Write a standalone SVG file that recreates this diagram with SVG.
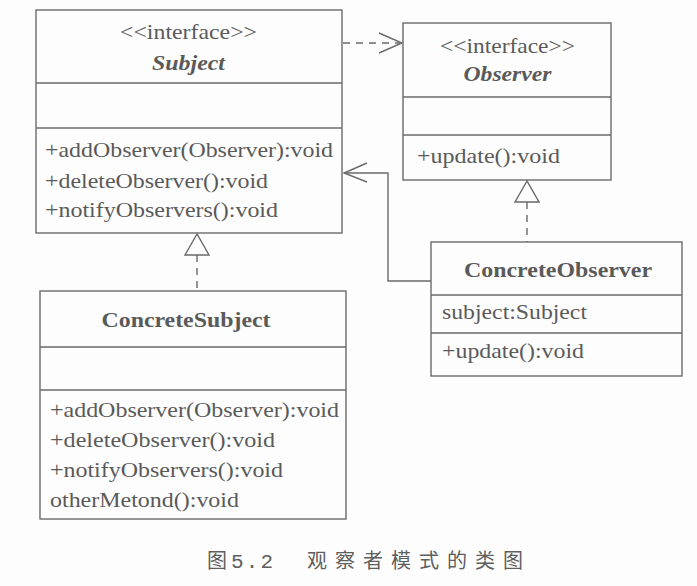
<svg xmlns="http://www.w3.org/2000/svg" width="697" height="586" viewBox="0 0 697 586">
<style>
.box{fill:none;stroke:#6a6a6a;stroke-width:1.4}
.t{font-family:"Liberation Serif","Times New Roman",serif;font-size:22px;fill:#5a5a5a}
.c{text-anchor:middle}
.b{font-weight:bold}
.i{font-style:italic;font-weight:bold}
.ln{fill:none;stroke:#6a6a6a;stroke-width:1.4}
.dash{stroke-dasharray:7,6}
.cap{font-family:"Noto Sans CJK SC","Noto Sans CJK JP",sans-serif;font-size:20px;fill:#5e5e5e}
.num{font-family:"Liberation Mono","Courier New",monospace;font-size:21px;fill:#5e5e5e}
</style>
<rect width="697" height="586" fill="#fdfdfd"/>
<g id="Subject">
<rect class="box" x="36" y="10" width="306" height="223"/>
<line class="box" x1="36" y1="83" x2="342" y2="83"/>
<line class="box" x1="36" y1="128" x2="342" y2="128"/>
<text class="t c" x="188.5" y="39" textLength="137" lengthAdjust="spacingAndGlyphs">&lt;&lt;interface&gt;&gt;</text>
<text class="t c i" x="188.5" y="70" textLength="73" lengthAdjust="spacingAndGlyphs">Subject</text>
<text class="t" x="45" y="157" textLength="288" lengthAdjust="spacingAndGlyphs">+addObserver(Observer):void</text>
<text class="t" x="45" y="188" textLength="223" lengthAdjust="spacingAndGlyphs">+deleteObserver():void</text>
<text class="t" x="45" y="217" textLength="233" lengthAdjust="spacingAndGlyphs">+notifyObservers():void</text>
</g>
<g id="Observer">
<rect class="box" x="403" y="23" width="208" height="157"/>
<line class="box" x1="403" y1="97" x2="611" y2="97"/>
<line class="box" x1="403" y1="135" x2="611" y2="135"/>
<text class="t c" x="507.5" y="53" textLength="135" lengthAdjust="spacingAndGlyphs">&lt;&lt;interface&gt;&gt;</text>
<text class="t c i" x="507.5" y="81" textLength="88" lengthAdjust="spacingAndGlyphs">Observer</text>
<text class="t" x="417" y="163" textLength="143" lengthAdjust="spacingAndGlyphs">+update():void</text>
</g>
<g id="ConcreteObserver">
<rect class="box" x="431" y="242" width="251" height="134"/>
<line class="box" x1="431" y1="295" x2="682" y2="295"/>
<line class="box" x1="431" y1="333" x2="682" y2="333"/>
<text class="t c b" x="558" y="277" textLength="188" lengthAdjust="spacingAndGlyphs">ConcreteObserver</text>
<text class="t" x="442" y="319" textLength="145" lengthAdjust="spacingAndGlyphs">subject:Subject</text>
<text class="t" x="442" y="358" textLength="142" lengthAdjust="spacingAndGlyphs">+update():void</text>
</g>
<g id="ConcreteSubject">
<rect class="box" x="40" y="291" width="306" height="228"/>
<line class="box" x1="40" y1="347" x2="346" y2="347"/>
<line class="box" x1="40" y1="390" x2="346" y2="390"/>
<text class="t c b" x="186" y="327" textLength="169" lengthAdjust="spacingAndGlyphs">ConcreteSubject</text>
<text class="t" x="50" y="417" textLength="289" lengthAdjust="spacingAndGlyphs">+addObserver(Observer):void</text>
<text class="t" x="50" y="447" textLength="225" lengthAdjust="spacingAndGlyphs">+deleteObserver():void</text>
<text class="t" x="50" y="477" textLength="233" lengthAdjust="spacingAndGlyphs">+notifyObservers():void</text>
<text class="t" x="50" y="507" textLength="189" lengthAdjust="spacingAndGlyphs">otherMetond():void</text>
</g>
<g id="connectors">
<line class="ln dash" x1="343" y1="43" x2="400" y2="43"/>
<polyline class="ln" points="379,33 402,43 379,53"/>
<line class="ln dash" x1="527" y1="202" x2="527" y2="242"/>
<polygon class="ln" points="527,181 515,202 539,202" fill="#fdfdfd"/>
<line class="ln dash" x1="197" y1="255" x2="197" y2="291"/>
<polygon class="ln" points="197,234 185,255 209,255" fill="#fdfdfd"/>
<polyline class="ln" points="431,281 388,281 388,173 344,173"/>
<polyline class="ln" points="367,163 344,173 367,182"/>
</g>
<g id="caption">
<text class="cap" x="207" y="568">图</text>
<text class="num" x="231" y="568" textLength="42" lengthAdjust="spacing">5.2</text>
<text class="cap" x="307" y="568" textLength="216" lengthAdjust="spacing">观察者模式的类图</text>
</g>
</svg>
